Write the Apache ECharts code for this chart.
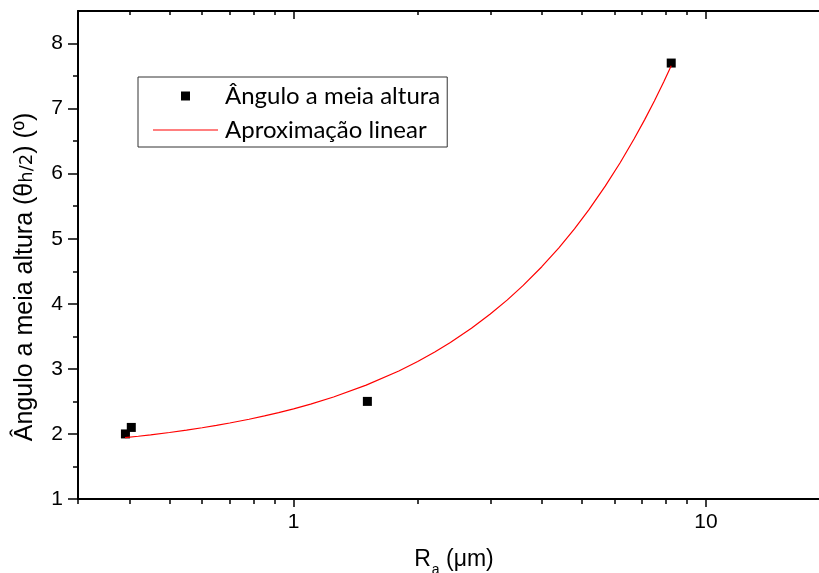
<!DOCTYPE html>
<html>
<head>
<meta charset="utf-8">
<script src="https://cdn.jsdelivr.net/npm/echarts@6/dist/echarts.min.js"></script>
<style>
  html, body { margin: 0; padding: 0; background: #fff; }
  #chart { width: 819px; height: 573px; }
</style>
</head>
<body>
<div id="chart"></div>
<script>
// medidas (Ra em µm, ângulo em graus)
var raValues = [0.391, 0.404, 1.51, 8.24];
var angleValues = [2.0, 2.1, 2.5, 7.7];

// aproximação linear, lida ponto a ponto na curva vermelha
var fitRa = [0.39, 0.42, 0.45, 0.5, 0.55, 0.6, 0.65, 0.7, 0.78, 0.85, 0.92, 1.0, 1.1, 1.25, 1.5, 1.8, 2.0, 2.2, 2.4, 2.7, 3.0, 3.3, 3.6, 4.0, 4.4, 4.8, 5.2, 5.7, 6.2, 6.7, 7.1, 7.5, 7.9, 8.24];
var fitAngle = [1.942, 1.964, 1.986, 2.022, 2.058, 2.095, 2.131, 2.168, 2.226, 2.277, 2.328, 2.386, 2.459, 2.568, 2.750, 2.968, 3.114, 3.260, 3.405, 3.624, 3.842, 4.060, 4.279, 4.570, 4.861, 5.152, 5.444, 5.808, 6.172, 6.536, 6.827, 7.118, 7.409, 7.657];

// marcas dos eixos
var xMajorTicks = [1, 10];
var xMinorTicks = [0.3, 0.4, 0.5, 0.6, 0.7, 0.8, 0.9, 2, 3, 4, 5, 6, 7, 8, 9, 20];
var yMajorTicks = [1, 2, 3, 4, 5, 6, 7, 8];
var yMinorTicks = [1.5, 2.5, 3.5, 4.5, 5.5, 6.5, 7.5];

var seriesNames = ['Ângulo a meia altura', 'Aproximação linear'];

var chart = echarts.init(document.getElementById('chart'), null, { renderer: 'canvas' });

var axisFont = 'Liberation Sans, Arial, sans-serif';
var lineStyle = { color: '#000', width: 2 };

function xAxisOf(position, ticks, len, inside, withLabels, showLine) {
  return {
    type: 'log',
    logBase: 10,
    position: position,
    min: 0.3,
    max: 20,
    axisLine: { show: showLine, onZero: false, lineStyle: lineStyle },
    axisTick: { show: true, inside: inside, length: len, customValues: ticks, lineStyle: { color: '#000', width: 1.5 } },
    axisLabel: withLabels
      ? { show: true, customValues: ticks, margin: 13, fontFamily: axisFont, fontSize: 21, color: '#000' }
      : { show: false },
    splitLine: { show: false },
    minorTick: { show: false }
  };
}

var option = {
  backgroundColor: '#fff',
  animation: false,
  grid: {
    left: 78,
    top: 11,
    bottom: 74,
    right: -11,
    containLabel: false,
    outerBoundsMode: 'none'
  },
  legend: {
    data: [
      { name: seriesNames[0], icon: 'path://M0,0H10V10H0Z' },
      { name: seriesNames[1], icon: 'path://M0,0H65V1H0Z' }
    ],
    orient: 'vertical',
    left: 138,
    top: 77,
    itemWidth: 65,
    itemHeight: 9,
    itemGap: 8,
    padding: [6, 7, 4, 15],
    borderColor: '#333',
    borderWidth: 1,
    symbolKeepAspect: true,
    selectedMode: false,
    textStyle: {
      fontFamily: 'Lato, Noto Sans, sans-serif',
      fontSize: 24,
      lineHeight: 26,
      color: '#000',
      padding: [0, 0, 0, 2]
    }
  },
  xAxis: [
    (function () {
      var ax = xAxisOf('bottom', xMajorTicks, 8, false, true, true);
      ax.name = '{r|R}{s|a}{r| (μm)}';
      ax.nameLocation = 'middle';
      ax.nameGap = 44;
      ax.nameTextStyle = {
        color: '#000',
        rich: {
          r: { fontFamily: axisFont, fontSize: 23, color: '#000' },
          s: { fontFamily: axisFont, fontSize: 14, color: '#000', padding: [20, 0, 0, 1] }
        }
      };
      return ax;
    })(),
    xAxisOf('bottom', xMinorTicks, 5, false, false, false),
    xAxisOf('top', xMajorTicks, 8, true, false, true),
    xAxisOf('top', xMinorTicks, 4, true, false, false)
  ],
  yAxis: [
    {
      type: 'value',
      position: 'left',
      min: 1,
      max: 8.5,
      name: '{n|Ângulo a meia altura (}{t|θ}{h|h/2}{n|) (º)}',
      nameLocation: 'middle',
      nameRotate: 90,
      nameGap: 40,
      nameTextStyle: {
        color: '#000',
        padding: [0, 44, 0, 0],
        rich: {
          n: { fontFamily: axisFont, fontSize: 25, color: '#000' },
          t: { fontFamily: axisFont, fontSize: 25, color: '#000' },
          h: { fontFamily: 'DejaVu Sans, sans-serif', fontSize: 18, color: '#000', padding: [3, 0, 0, 0] }
        }
      },
      axisLine: { show: true, onZero: false, lineStyle: lineStyle },
      axisTick: { show: true, inside: false, length: 10, customValues: yMajorTicks, lineStyle: { color: '#000', width: 1.5 } },
      axisLabel: { show: true, customValues: yMajorTicks, margin: 15, fontFamily: axisFont, fontSize: 21, color: '#000' },
      splitLine: { show: false }
    },
    {
      type: 'value',
      position: 'left',
      min: 1,
      max: 8.5,
      axisLine: { show: false },
      axisTick: { show: true, inside: false, length: 5, customValues: yMinorTicks, lineStyle: { color: '#000', width: 1.5 } },
      axisLabel: { show: false },
      splitLine: { show: false }
    }
  ],
  series: [
    {
      name: seriesNames[0],
      type: 'scatter',
      xAxisIndex: 0,
      yAxisIndex: 0,
      symbol: 'rect',
      symbolSize: 9,
      itemStyle: { color: '#000', opacity: 1 },
      data: raValues.map(function (v, i) { return [v, angleValues[i]]; }),
      z: 2
    },
    {
      name: seriesNames[1],
      type: 'line',
      xAxisIndex: 0,
      yAxisIndex: 0,
      smooth: false,
      showSymbol: false,
      symbol: 'none',
      lineStyle: { color: '#ff0000', width: 1.2 },
      itemStyle: { color: '#ff0000' },
      data: fitRa.map(function (v, i) { return [v, fitAngle[i]]; }),
      z: 3
    }
  ]
};

chart.setOption(option);
window.addEventListener('resize', function () { chart.resize(); });
</script>
</body>
</html>
